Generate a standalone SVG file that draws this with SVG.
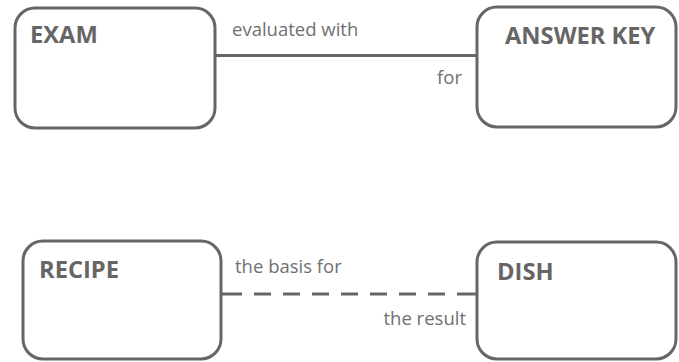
<svg xmlns="http://www.w3.org/2000/svg" width="679" height="362" viewBox="0 0 679 362">
  <style>
    .box { fill: #ffffff; stroke: #666666; stroke-width: 3; }
    .title { font-family: "Open Sans", "Liberation Sans", sans-serif; font-weight: bold; font-size: 23.7px; fill: #666666; }
    .label { font-family: "Open Sans", "Liberation Sans", sans-serif; font-size: 18.5px; fill: #707070; }
    .conn { stroke: #666666; stroke-width: 3; fill: none; }
    .dashed { stroke-dasharray: 21 12 17 12 17 12 17 12 17 12 17 12 17 12 17 12 20 100; }
  </style>
  <rect width="679" height="362" fill="#ffffff"/>
  <g id="connectors">
    <line class="conn" x1="215" y1="55.5" x2="477" y2="55.5"/>
    <line class="conn dashed" x1="221" y1="294" x2="477" y2="294"/>
    <text class="label" x="232" y="36">evaluated with</text>
    <text class="label" x="462" y="84" text-anchor="end">for</text>
    <text class="label" x="235" y="273">the basis for</text>
    <text class="label" x="466" y="325" text-anchor="end">the result</text>
  </g>
  <g id="exam">
    <rect class="box" x="15" y="8" width="200" height="120" rx="20"/>
    <text class="title" x="30" y="43">EXAM</text>
  </g>
  <g id="answer-key">
    <rect class="box" x="477" y="7" width="199" height="120" rx="20"/>
    <text class="title" x="505" y="44">ANSWER KEY</text>
  </g>
  <g id="recipe">
    <rect class="box" x="23" y="241" width="198" height="118" rx="20"/>
    <text class="title" x="39" y="278">RECIPE</text>
  </g>
  <g id="dish">
    <rect class="box" x="477" y="242" width="199" height="117" rx="20"/>
    <text class="title" x="497" y="280">DISH</text>
  </g>
</svg>
